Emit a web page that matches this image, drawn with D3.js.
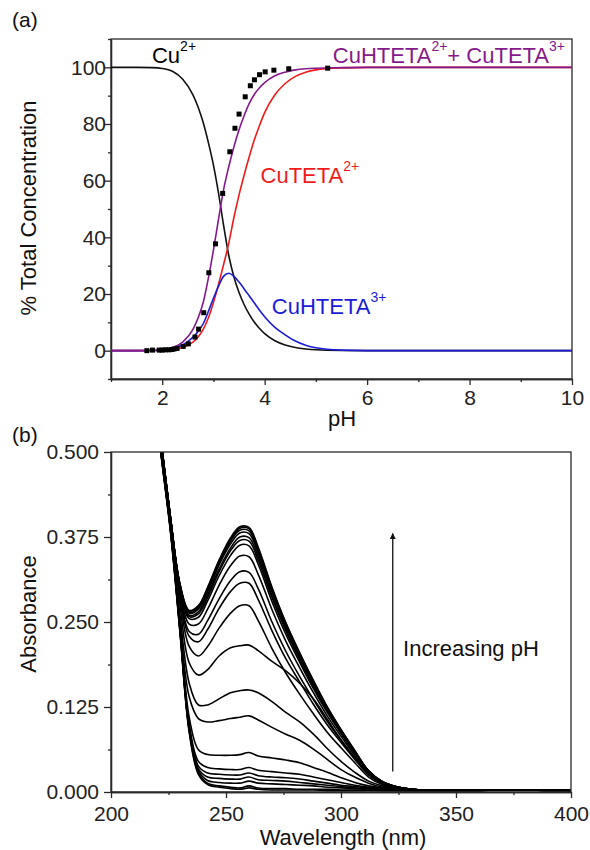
<!DOCTYPE html>
<html>
<head>
<meta charset="utf-8">
<script src="https://cdn.jsdelivr.net/npm/d3@7/dist/d3.min.js"></script>
<style>
  body { margin: 0; background: #fff; }
  svg text { font-family: "Liberation Sans", Arial, sans-serif; }
</style>
</head>
<body>
<svg id="fig" width="590" height="850"></svg>
<script>
// ---- panel (a): speciation vs pH ----
const pH = [1.0, 1.5, 1.8, 2.0, 2.2, 2.4, 2.6, 2.7, 2.8, 2.9, 3.0, 3.1, 3.2, 3.3, 3.4, 3.5,
            3.6, 3.7, 3.8, 3.9, 4.0, 4.2, 4.4, 4.6, 4.8, 5.0, 5.5, 6.0, 7.0, 8.0, 9.0, 10.0];
const cu = [100, 100, 99.9, 99.6, 98.6, 95.8, 90.3, 86, 80.5, 73.5, 65.5, 55.5, 44, 33.5, 26, 20.5,
            16.2, 12.8, 10, 7.8, 6.0, 3.5, 2.0, 1.1, 0.6, 0.3, 0.07, 0.02, 0, 0, 0, 0];
const cuteta = [0, 0, 0.05, 0.1, 0.4, 1.1, 3.0, 4.8, 7.5, 11.5, 17, 23.5, 30.5, 38, 47, 55,
                62, 68.5, 74.5, 79.5, 84, 90.3, 94.3, 96.8, 98.3, 99.1, 99.8, 100, 100, 100, 100, 100];
const cuhteta = [0, 0, 0.05, 0.2, 0.8, 2.0, 4.8, 6.8, 9.5, 13.8, 18.5, 22.8, 26.3, 27.3, 26.2, 24.2,
                 21.8, 19.3, 16.8, 14.3, 12.0, 8.2, 5.6, 3.4, 1.9, 1.0, 0.2, 0.03, 0, 0, 0, 0];
const total = [0, 0, 0.1, 0.3, 1.0, 3.0, 7.5, 11.5, 17, 25.5, 35.5, 46.5, 57, 65, 72, 78,
               83, 87.3, 90.5, 92.8, 94.6, 97, 98.3, 99.1, 99.5, 99.7, 99.9, 100, 100, 100, 100, 100];

// measured points
const ptPH = [1.70, 1.81, 1.94, 2.00, 2.06, 2.13, 2.19, 2.23, 2.29, 2.41, 2.51, 2.64, 2.71, 2.81,
              2.91, 3.04, 3.18, 3.32, 3.42, 3.50, 3.62, 3.72, 3.80, 3.90, 4.01, 4.18, 4.47, 5.23];
const ptVal = [0, 0.2, 0.2, 0.2, 0.3, 0.3, 0.4, 0.6, 0.8, 1.5, 2.4, 4.8, 7.6, 13.4,
               27.5, 37.7, 55.5, 70.2, 78.5, 83.5, 89.6, 93.5, 95.6, 97.4, 98.4, 99.0, 99.5, 99.7];

const pHTicks = [2, 4, 6, 8, 10];
const pHMinor = [1, 3, 5, 7, 9];
const concTicks = [0, 20, 40, 60, 80, 100];
const concMinor = [-10, 10, 30, 50, 70, 90, 110];

// ---- panel (b): UV spectra ----
const wl = [218, 222, 226, 230, 234, 238, 242, 247, 252, 256, 260, 264, 270, 276, 282, 288,
            294, 300, 306, 312, 318, 325, 335, 350, 375, 400];
const spectra = [
  [.620,.510,.400,.306,.267,.274,.301,.341,.374,.390,.389,.360,.301,.249,.205,.164,.125,.092,.061,.031,.015,.007,.003,.002,.003,.002],
  [.620,.510,.400,.305,.266,.273,.299,.340,.372,.388,.387,.358,.299,.248,.204,.163,.125,.091,.060,.031,.015,.007,.003,.002,.003,.002],
  [.620,.510,.400,.305,.264,.271,.297,.337,.369,.385,.384,.355,.297,.246,.202,.162,.124,.091,.060,.031,.015,.007,.003,.002,.003,.002],
  [.620,.510,.400,.304,.263,.269,.294,.334,.365,.381,.380,.351,.294,.244,.200,.160,.122,.090,.059,.031,.015,.007,.003,.002,.003,.002],
  [.619,.509,.399,.303,.260,.265,.290,.328,.359,.375,.374,.346,.289,.240,.197,.157,.120,.088,.058,.030,.015,.007,.003,.002,.003,.002],
  [.619,.509,.399,.302,.258,.262,.286,.324,.355,.370,.369,.341,.286,.237,.195,.155,.119,.087,.058,.030,.014,.007,.003,.002,.003,.002],
  [.619,.509,.399,.301,.255,.257,.281,.318,.348,.363,.362,.335,.280,.232,.191,.152,.117,.086,.057,.029,.014,.007,.003,.002,.003,.002],
  [.618,.508,.398,.298,.247,.247,.269,.304,.333,.347,.346,.320,.268,.222,.183,.146,.112,.082,.054,.028,.014,.006,.003,.002,.003,.002],
  [.617,.507,.397,.294,.236,.232,.252,.284,.311,.324,.323,.299,.250,.207,.170,.136,.104,.076,.051,.026,.013,.006,.003,.002,.003,.002],
  [.616,.506,.396,.291,.229,.221,.239,.270,.295,.307,.307,.283,.237,.196,.162,.129,.099,.073,.048,.025,.012,.006,.003,.002,.003,.002],
  [.614,.504,.394,.284,.214,.200,.214,.241,.263,.274,.274,.252,.211,.175,.144,.115,.088,.065,.043,.022,.011,.006,.003,.002,.003,.002],
  [.612,.502,.392,.275,.190,.172,.180,.200,.212,.215,.216,.208,.192,.178,.160,.137,.107,.077,.050,.027,.013,.006,.003,.002,.003,.002],
  [.610,.500,.390,.260,.160,.128,.128,.137,.146,.149,.150,.146,.133,.117,.103,.085,.064,.045,.029,.016,.009,.005,.003,.002,.003,.002],
  [.608,.498,.388,.250,.140,.108,.103,.105,.108,.110,.112,.106,.095,.085,.076,.063,.048,.033,.022,.013,.007,.004,.003,.002,.003,.002],
  [.606,.496,.386,.245,.110,.062,.055,.054,.054,.055,.058,.053,.050,.047,.043,.036,.029,.021,.014,.009,.006,.004,.003,.002,.003,.002],
  [.604,.494,.384,.242,.100,.045,.036,.034,.033,.033,.036,.032,.030,.028,.026,.022,.018,.014,.010,.007,.005,.003,.003,.002,.003,.002],
  [.603,.493,.383,.240,.097,.038,.028,.026,.025,.025,.028,.024,.022,.021,.019,.016,.013,.010,.008,.006,.004,.003,.002,.002,.003,.002],
  [.602,.492,.382,.239,.094,.034,.022,.020,.019,.019,.022,.018,.017,.016,.014,.012,.010,.008,.006,.005,.004,.003,.002,.002,.003,.002],
  [.601,.491,.381,.237,.092,.031,.017,.014,.013,.013,.016,.013,.012,.011,.010,.009,.007,.006,.005,.004,.003,.002,.002,.002,.003,.002],
  [.600,.490,.380,.236,.090,.028,.013,.009,.007,.006,.009,.006,.005,.005,.004,.004,.004,.003,.003,.003,.002,.002,.002,.002,.003,.002],
  [.600,.489,.378,.234,.088,.026,.011,.007,.005,.004,.006,.004,.003,.003,.003,.003,.002,.002,.002,.002,.002,.002,.002,.002,.003,.002]
];

const wlTicks = [200, 250, 300, 350, 400];
const wlMinor = [225, 275, 325, 375];
const absTicks = [0, 0.125, 0.25, 0.375, 0.5];
const absMinor = [0.0625, 0.1875, 0.3125, 0.4375];

const axisColor = "#2a2a2a";
const svg = d3.select("#fig");

function styleAxis(g) {
  g.selectAll("path, line").attr("stroke", axisColor).attr("stroke-width", 1.3);
  g.selectAll("text").attr("fill", "#222").style("font-size", "21px");
}

function frame(x, y) {
  svg.append("rect")
    .attr("x", x.range()[0]).attr("y", y.range()[1])
    .attr("width", x.range()[1] - x.range()[0])
    .attr("height", y.range()[0] - y.range()[1])
    .attr("fill", "none").attr("stroke", axisColor).attr("stroke-width", 1.3);
}

function supText(x, y, parts, color, raise) {
  const t = svg.append("text").attr("x", x).attr("y", y)
    .attr("fill", color).style("font-size", "22px");
  parts.forEach(([s, sup, dx]) => {
    const ts = t.append("tspan").text(s);
    if (sup) ts.attr("dy", -raise).style("font-size", "14px");
    else if (t.selectAll("tspan").size() > 1) ts.attr("dy", raise);
    if (dx) ts.attr("dx", dx);
  });
}

// ================= panel (a) =================
const xA = d3.scaleLinear().domain([1, 10]).range([111, 572]);
const yA = d3.scaleLinear().domain([-10, 110]).range([379, 39]);

frame(xA, yA);

svg.append("g").attr("transform", `translate(0,${yA.range()[0]})`)
  .call(d3.axisBottom(xA).tickValues(pHTicks).tickSize(6).tickPadding(5).tickSizeOuter(0))
  .call(styleAxis);
svg.append("g").attr("transform", `translate(0,${yA.range()[0]})`)
  .call(d3.axisBottom(xA).tickValues(pHMinor).tickSize(3).tickFormat("").tickSizeOuter(0))
  .call(styleAxis);
svg.append("g").attr("transform", `translate(${xA.range()[0]},0)`)
  .call(d3.axisLeft(yA).tickValues(concTicks).tickSize(7).tickPadding(-2).tickSizeOuter(0))
  .call(styleAxis);
svg.append("g").attr("transform", `translate(${xA.range()[0]},0)`)
  .call(d3.axisLeft(yA).tickValues(concMinor).tickSize(3).tickFormat("").tickSizeOuter(0))
  .call(styleAxis);

const lineA = d3.line().curve(d3.curveMonotoneX);
const seriesA = [
  { vals: cu, color: "#111111" },
  { vals: cuteta, color: "#ee1c1c" },
  { vals: cuhteta, color: "#1c1cd6" },
  { vals: total, color: "#851a8c" }
];
seriesA.forEach(s => {
  svg.append("path")
    .attr("d", lineA(pH.map((p, i) => [xA(p), yA(s.vals[i])])))
    .attr("fill", "none").attr("stroke", s.color).attr("stroke-width", 1.6);
});

svg.append("g").selectAll("rect")
  .data(ptPH.map((p, i) => [p, ptVal[i]]))
  .join("rect")
  .attr("x", d => xA(d[0]) - 2.5).attr("y", d => yA(d[1]) - 2.5)
  .attr("width", 5).attr("height", 5).attr("fill", "#000");

supText(xA(1.8), yA(101.5), [["Cu"], ["2+", true]], "#000", 12);
supText(xA(5.33), yA(101.5), [["CuHTETA"], ["2+", true], ["+ CuTETA"], ["3+", true]], "#851a8c", 12);
supText(xA(3.92), yA(59.3), [["CuTETA"], ["2+", true]], "#ee1c1c", 12);
supText(xA(4.14), yA(12.8), [["CuHTETA"], ["3+", true]], "#1c1cd6", 12);

svg.append("text").attr("x", 12).attr("y", 27).text("(a)")
  .attr("fill", "#111").style("font-size", "21px");
svg.append("text").attr("x", 342).attr("y", 426).attr("text-anchor", "middle")
  .text("pH").attr("fill", "#111").style("font-size", "22px");
svg.append("text").attr("transform", "translate(36,208) rotate(-90)")
  .attr("text-anchor", "middle").text("% Total Concentration")
  .attr("fill", "#111").style("font-size", "22px");

// ================= panel (b) =================
const xB = d3.scaleLinear().domain([200, 400]).range([111, 571]);
const yB = d3.scaleLinear().domain([0, 0.5]).range([792, 452]);

svg.append("clipPath").attr("id", "clipB").append("rect")
  .attr("x", xB.range()[0]).attr("y", yB.range()[1])
  .attr("width", xB.range()[1] - xB.range()[0])
  .attr("height", yB.range()[0] - yB.range()[1]);

const lineB = d3.line().curve(d3.curveCatmullRom.alpha(0.5));
svg.append("g").attr("clip-path", "url(#clipB)")
  .selectAll("path").data(spectra).join("path")
  .attr("d", s => lineB(wl.map((w, i) => [xB(w), yB(s[i])])))
  .attr("fill", "none").attr("stroke", "#000").attr("stroke-width", 1.6);

frame(xB, yB);

svg.append("g").attr("transform", `translate(0,${yB.range()[0]})`)
  .call(d3.axisBottom(xB).tickValues(wlTicks).tickSize(6).tickPadding(8).tickSizeOuter(0))
  .call(styleAxis);
svg.append("g").attr("transform", `translate(0,${yB.range()[0]})`)
  .call(d3.axisBottom(xB).tickValues(wlMinor).tickSize(3).tickFormat("").tickSizeOuter(0))
  .call(styleAxis);
svg.append("g").attr("transform", `translate(${xB.range()[0]},0)`)
  .call(d3.axisLeft(yB).tickValues(absTicks).tickSize(7).tickPadding(5)
    .tickFormat(d3.format(".3f")).tickSizeOuter(0))
  .call(styleAxis);
svg.append("g").attr("transform", `translate(${xB.range()[0]},0)`)
  .call(d3.axisLeft(yB).tickValues(absMinor).tickSize(3).tickFormat("").tickSizeOuter(0))
  .call(styleAxis);

// arrow "Increasing pH"
svg.append("defs").append("marker")
  .attr("id", "arrowHead").attr("viewBox", "0 0 10 10")
  .attr("refX", 9).attr("refY", 5)
  .attr("markerWidth", 6).attr("markerHeight", 8)
  .attr("markerUnits", "userSpaceOnUse").attr("orient", "auto")
  .append("path").attr("d", "M0,0 L10,5 L0,10 Z").attr("fill", "#111");
svg.append("line")
  .attr("x1", xB(322.5)).attr("x2", xB(322.5))
  .attr("y1", yB(0.03)).attr("y2", yB(0.38))
  .attr("stroke", "#111").attr("stroke-width", 1.3)
  .attr("marker-end", "url(#arrowHead)");
svg.append("text").attr("x", xB(327)).attr("y", yB(0.20))
  .text("Increasing pH").attr("fill", "#111").style("font-size", "22px");

svg.append("text").attr("x", 12).attr("y", 442).text("(b)")
  .attr("fill", "#111").style("font-size", "21px");
svg.append("text").attr("x", 343).attr("y", 845).attr("text-anchor", "middle")
  .text("Wavelength (nm)").attr("fill", "#111").style("font-size", "22px");
svg.append("text").attr("transform", "translate(36,614) rotate(-90)")
  .attr("text-anchor", "middle").text("Absorbance")
  .attr("fill", "#111").style("font-size", "22px");
</script>
</body>
</html>
